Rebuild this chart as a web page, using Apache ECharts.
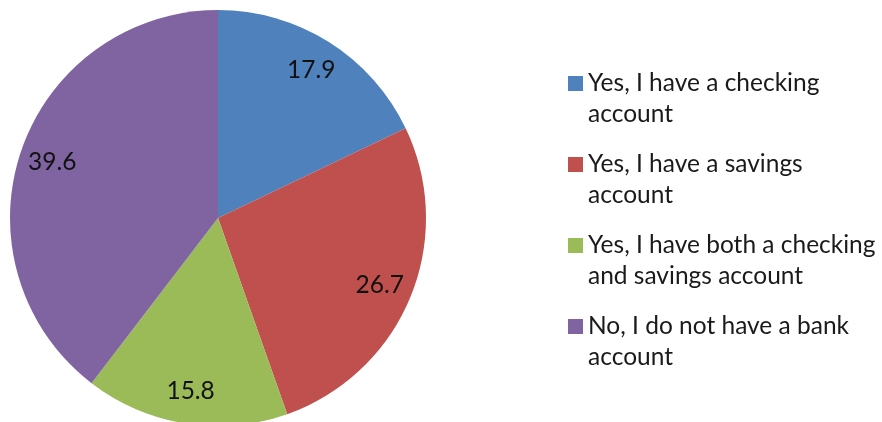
<!DOCTYPE html>
<html>
<head>
<meta charset="utf-8">
<script src="https://cdn.jsdelivr.net/npm/echarts@6/dist/echarts.min.js"></script>
<style>
  html, body { margin: 0; padding: 0; background: #fff; }
  #chart { width: 882px; height: 422px; }
</style>
</head>
<body>
<div id="chart"></div>
<script>
const categories = [
  'Yes, I have a checking account',
  'Yes, I have a savings account',
  'Yes, I have both a checking and savings account',
  'No, I do not have a bank account'
];
const legendLines = [
  'Yes, I have a checking\naccount',
  'Yes, I have a savings\naccount',
  'Yes, I have both a checking\nand savings account',
  'No, I do not have a bank\naccount'
];
const values = [17.9, 26.7, 15.8, 39.6];
const colors = ['#4F81BD', '#C0504D', '#9BBB59', '#8064A2'];

const chart = echarts.init(document.getElementById('chart'));

const pieData = categories.map((name, i) => ({
  name: name,
  value: values[i],
  itemStyle: { color: colors[i] }
}));

const option = {
  animation: false,
  legend: {
    orient: 'vertical',
    left: 563,
    top: 32,
    icon: 'rect',
    itemWidth: 15,
    itemHeight: 15,
    itemGap: -12,
    selectedMode: false,
    // leading blank line keeps the icon level with the first text line
    formatter: function (name) {
      return '\n' + legendLines[categories.indexOf(name)];
    },
    textStyle: {
      fontFamily: 'Lato',
      fontSize: 24.5,
      lineHeight: 31,
      color: '#1a1a1a'
    },
    data: categories
  },
  series: [
    {
      type: 'pie',
      center: [218, 218],
      radius: [0, 208],
      startAngle: 90,
      clockwise: true,
      silent: true,
      label: { show: false },
      labelLine: { show: false },
      data: pieData
    },
    {
      // transparent ring used only to place the value labels near the rim
      type: 'pie',
      center: [218, 218],
      radius: [136, 208],
      startAngle: 90,
      clockwise: true,
      silent: true,
      itemStyle: { color: 'rgba(0,0,0,0)' },
      label: {
        show: true,
        position: 'inside',
        formatter: function (p) { return p.value.toFixed(1); },
        fontFamily: 'Lato',
        fontSize: 24.5,
        color: '#111'
      },
      labelLine: { show: false },
      data: categories.map((name, i) => ({ name: name, value: values[i] }))
    }
  ]
};

chart.setOption(option);
window.addEventListener('resize', () => chart.resize());
</script>
</body>
</html>
